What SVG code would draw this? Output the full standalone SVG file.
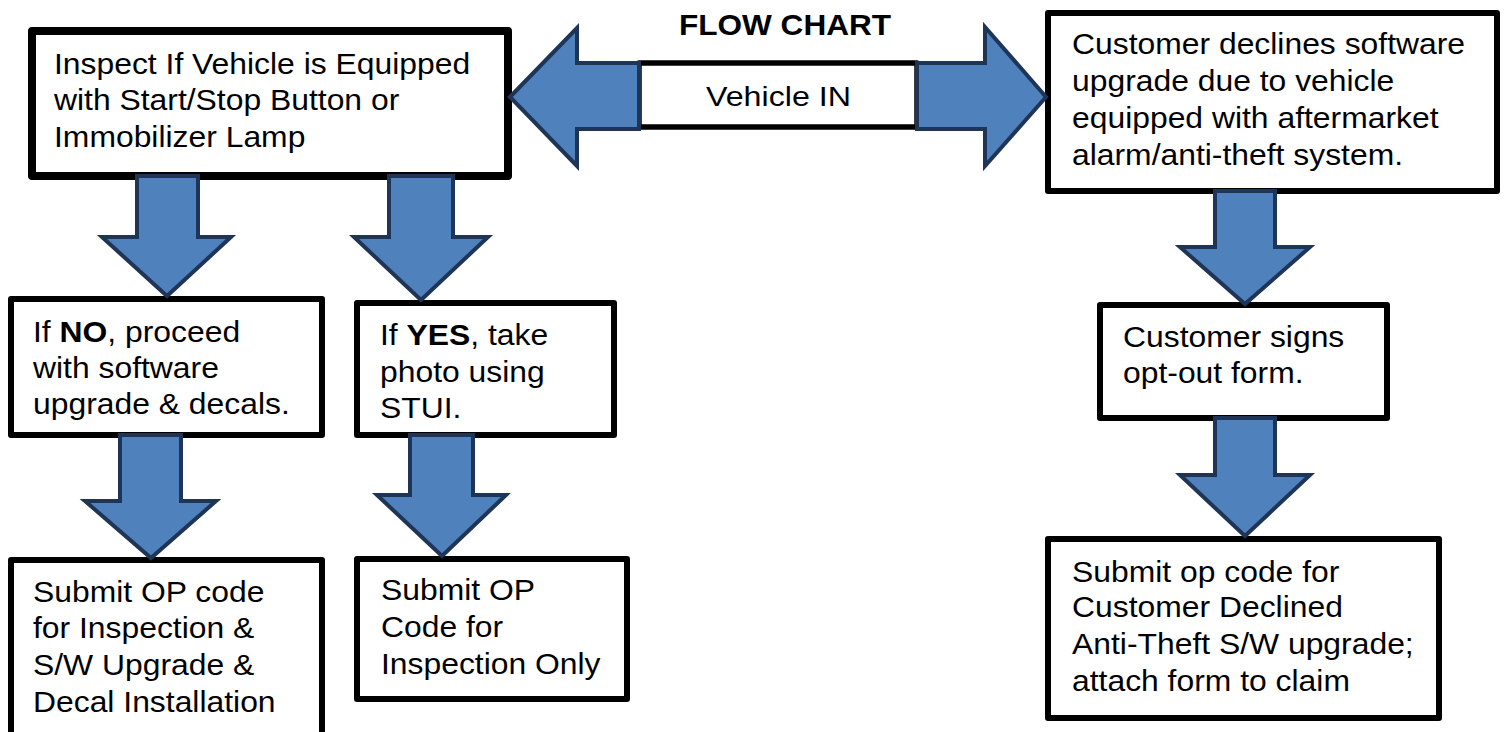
<svg xmlns="http://www.w3.org/2000/svg" width="1505" height="732" viewBox="0 0 1505 732">
  <style>
    .box { fill: #ffffff; stroke: #000000; stroke-width: 6; stroke-linejoin: round; }
    .thick { stroke-width: 8; }
    .arrow { fill: #4F81BD; stroke: #1F3557; stroke-width: 4; stroke-linejoin: miter; }
    .t { font-family: "Liberation Sans", Arial, sans-serif; font-size: 30px; fill: #000000; }
    .b { font-weight: bold; }
  </style>
  <rect x="0" y="0" width="1505" height="732" fill="#ffffff"/>

  <g id="title">
    <text class="t b" x="679" y="35" textLength="212" lengthAdjust="spacingAndGlyphs">FLOW CHART</text>
  </g>

  <g id="vehicle-in">
    <rect class="box" x="639" y="63" width="278" height="64" style="stroke-width:5.5"/>
    <text class="t" x="706" y="106" style="font-size:28px" textLength="145" lengthAdjust="spacingAndGlyphs">Vehicle IN</text>
  </g>

  <g id="inspect">
    <rect class="box thick" x="32" y="31" width="476" height="145"/>
    <g transform="translate(54 0) scale(1.062 1)">
      <text class="t" x="0" y="74">Inspect If Vehicle is Equipped</text>
      <text class="t" x="0" y="110">with Start/Stop Button or</text>
      <text class="t" x="0" y="147">Immobilizer Lamp</text>
    </g>
  </g>

  <g id="if-no">
    <rect class="box" x="11" y="299" width="311" height="136"/>
    <g transform="translate(33 0) scale(1.062 1)">
      <text class="t" x="0" y="342">If <tspan class="b">NO</tspan>, proceed</text>
      <text class="t" x="0" y="378">with software</text>
      <text class="t" x="0" y="414">upgrade &amp; decals.</text>
    </g>
  </g>

  <g id="if-yes">
    <rect class="box" x="357" y="303" width="257" height="132"/>
    <g transform="translate(380 0) scale(1.062 1)">
      <text class="t" x="0" y="345">If <tspan class="b">YES</tspan>, take</text>
      <text class="t" x="0" y="382">photo using</text>
      <text class="t" x="0" y="418">STUI.</text>
    </g>
  </g>

  <g id="submit-full">
    <rect class="box" x="11" y="560" width="311" height="190"/>
    <g transform="translate(33 0) scale(1.062 1)">
      <text class="t" x="0" y="602">Submit OP code</text>
      <text class="t" x="0" y="638">for Inspection &amp;</text>
      <text class="t" x="0" y="675">S/W Upgrade &amp;</text>
      <text class="t" x="0" y="712">Decal Installation</text>
    </g>
  </g>

  <g id="submit-inspection">
    <rect class="box" x="357" y="559" width="270" height="140"/>
    <g transform="translate(381 0) scale(1.062 1)">
      <text class="t" x="0" y="600">Submit OP</text>
      <text class="t" x="0" y="637">Code for</text>
      <text class="t" x="0" y="674">Inspection Only</text>
    </g>
  </g>

  <g id="customer-declines">
    <rect class="box" x="1048" y="13" width="449" height="178"/>
    <g transform="translate(1072 0) scale(1.062 1)">
      <text class="t" x="0" y="54">Customer declines software</text>
      <text class="t" x="0" y="91">upgrade due to vehicle</text>
      <text class="t" x="0" y="128">equipped with aftermarket</text>
      <text class="t" x="0" y="165">alarm/anti-theft system.</text>
    </g>
  </g>

  <g id="customer-signs">
    <rect class="box" x="1100" y="305" width="287" height="113"/>
    <g transform="translate(1123 0) scale(1.062 1)">
      <text class="t" x="0" y="347">Customer signs</text>
      <text class="t" x="0" y="383">opt-out form.</text>
    </g>
  </g>

  <g id="submit-declined">
    <rect class="box" x="1048" y="539" width="391" height="179"/>
    <g transform="translate(1072 0) scale(1.062 1)">
      <text class="t" x="0" y="582">Submit op code for</text>
      <text class="t" x="0" y="617">Customer Declined</text>
      <text class="t" x="0" y="654">Anti-Theft S/W upgrade;</text>
      <text class="t" x="0" y="691">attach form to claim</text>
    </g>
  </g>

  <g id="connectors">
    <polygon class="arrow" points="510,97 577,28 577,63 639,63 639,129 577,129 577,166"/>
    <polygon class="arrow" points="917,63 985,63 985,27 1046,97 985,166 985,129 917,129"/>
    <polygon class="arrow" points="137,176 198,176 198,237 231,237 167,296 102,237 137,237"/>
    <polygon class="arrow" points="389,176 453,176 453,237 488,237 421,300 354,237 389,237"/>
    <polygon class="arrow" points="120,435 181,435 181,501 216,501 151,558 85,501 120,501"/>
    <polygon class="arrow" points="410,435 473,435 473,495 506,495 442,556 377,495 410,495"/>
    <polygon class="arrow" points="1215,191 1275,191 1275,247 1310,247 1245,304 1180,247 1215,247"/>
    <polygon class="arrow" points="1215,418 1275,418 1275,475 1310,475 1245,536 1180,475 1215,475"/>
  </g>
</svg>
